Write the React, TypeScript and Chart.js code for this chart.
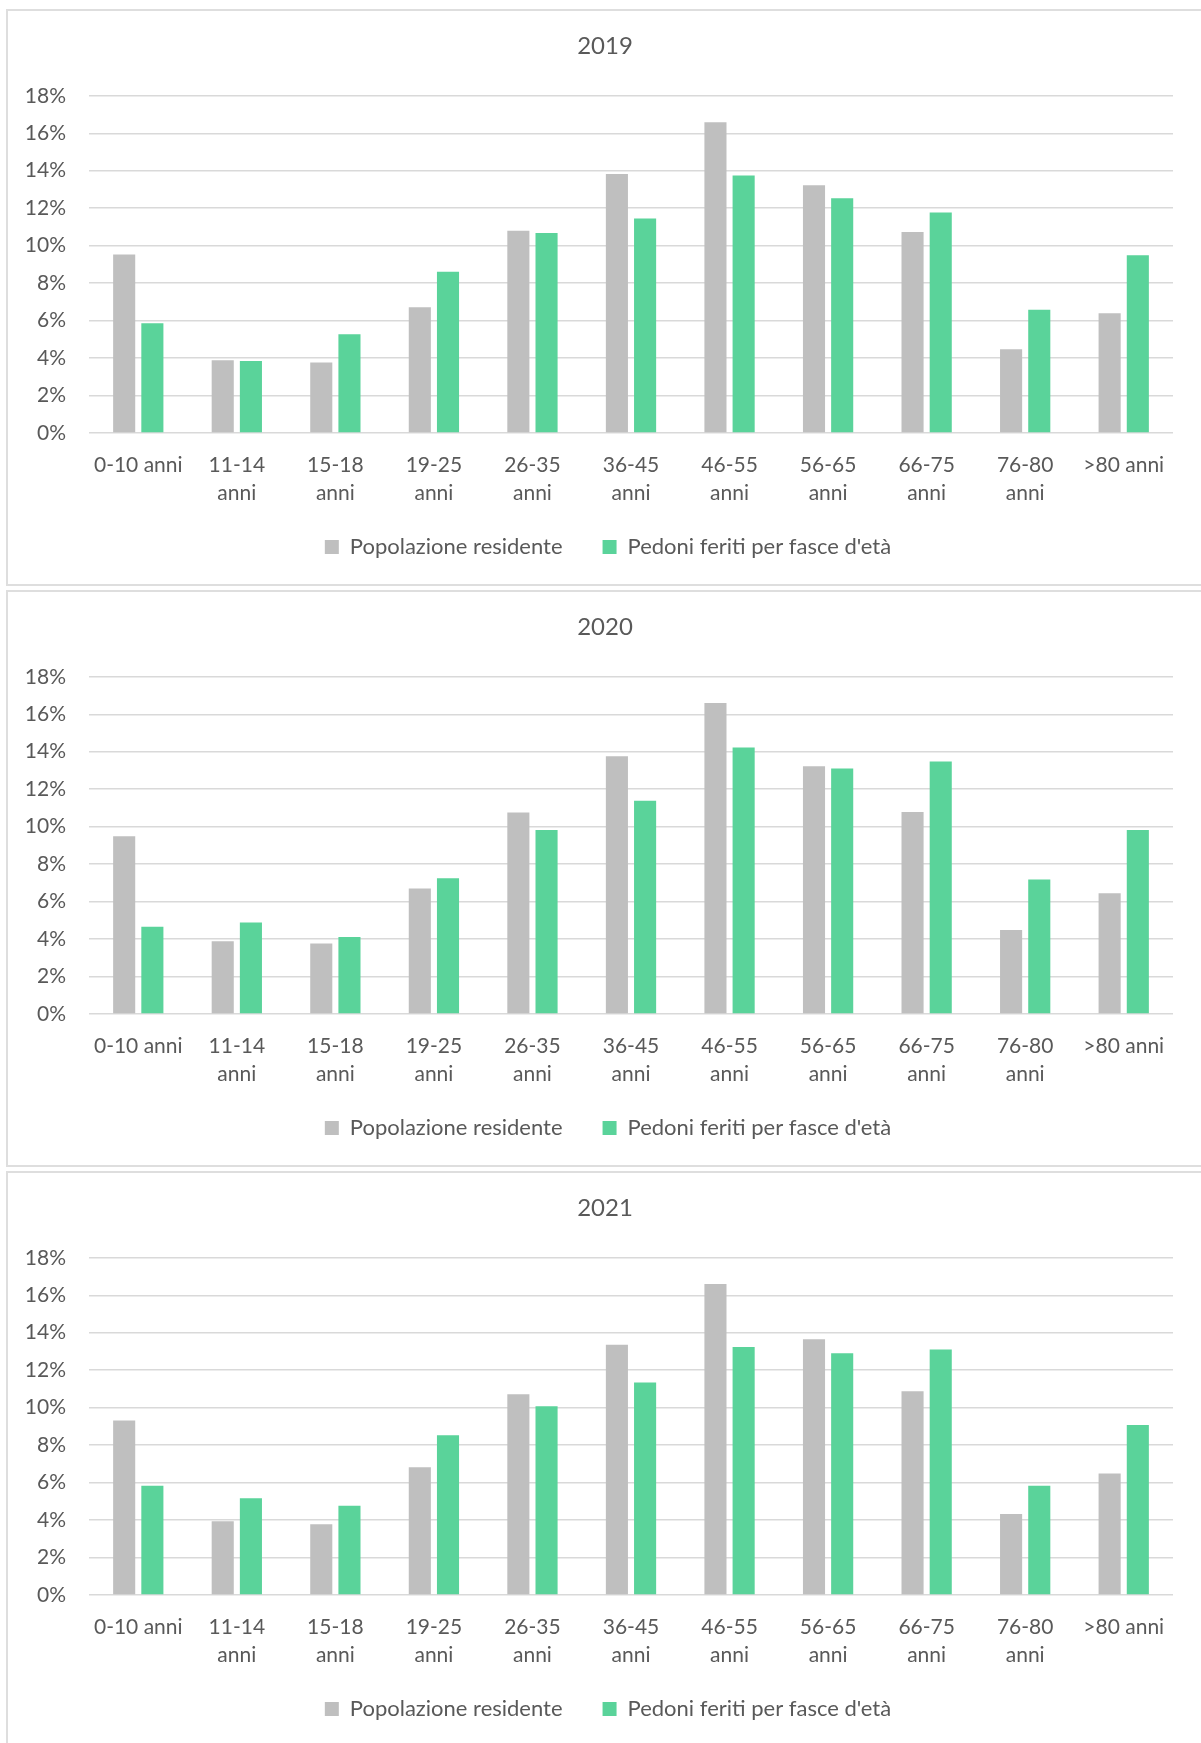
import React, { useEffect, useRef } from "react";
import { Chart, registerables } from "chart.js";

Chart.register(...registerables);

// ---- Data ----
const categories: (string | string[])[] = [
  "0-10 anni",
  ["11-14", "anni"],
  ["15-18", "anni"],
  ["19-25", "anni"],
  ["26-35", "anni"],
  ["36-45", "anni"],
  ["46-55", "anni"],
  ["56-65", "anni"],
  ["66-75", "anni"],
  ["76-80", "anni"],
  ">80 anni",
];

const seriesNames = ["Popolazione residente", "Pedoni feriti per fasce d'età"];
const years = ["2019", "2020", "2021"];

const popolazione2019 = [9.53, 3.89, 3.76, 6.71, 10.79, 13.82, 16.59, 13.22, 10.73, 4.47, 6.39];
const pedoni2019 = [5.86, 3.85, 5.27, 8.61, 10.68, 11.45, 13.74, 12.53, 11.77, 6.58, 9.49];

const popolazione2020 = [9.49, 3.88, 3.76, 6.7, 10.75, 13.76, 16.6, 13.23, 10.78, 4.49, 6.44];
const pedoni2020 = [4.66, 4.89, 4.11, 7.24, 9.82, 11.39, 14.22, 13.11, 13.48, 7.18, 9.82];

const popolazione2021 = [9.31, 3.94, 3.78, 6.82, 10.71, 13.36, 16.6, 13.65, 10.87, 4.32, 6.49];
const pedoni2021 = [5.83, 5.17, 4.76, 8.53, 10.07, 11.34, 13.24, 12.9, 13.11, 5.83, 9.08];

const popolazioneByYear = [popolazione2019, popolazione2020, popolazione2021];
const pedoniByYear = [pedoni2019, pedoni2020, pedoni2021];

const yMin = 0;
const yMax = 18;
const yStep = 2;

const grayColor = "#bfbfbf";
const greenColor = "#5ad39a";
const textColor = "#595959";
const gridColor = "#d9d9d9";
const fontFamily = "Lato, 'Open Sans', sans-serif";

const CANVAS_W = 1196;
const CANVAS_H = 573;
const LEGEND_FONT = 22;
const LEGEND_PAD = 40;
const LEGEND_CENTER_Y = 536;
const TITLE_CENTER_X = 597;
const LEGEND_CENTER_X = 600;

// Re-centre title and legend on the whole panel (the plot area has a right inset)
const panelLayoutPlugin = {
  id: "panelLayout",
  afterLayout(chart: any) {
    const t = chart.titleBlock;
    if (t) {
      t.left = TITLE_CENTER_X - CANVAS_W / 2;
      t.right = TITLE_CENTER_X + CANVAS_W / 2;
    }
    const l = chart.legend;
    if (l) {
      const h = l.bottom - l.top;
      l.left = LEGEND_CENTER_X - CANVAS_W / 2;
      l.right = LEGEND_CENTER_X + CANVAS_W / 2;
      l.top = LEGEND_CENTER_Y - LEGEND_PAD - LEGEND_FONT / 2;
      l.bottom = l.top + h;
    }
  },
};

function YearChart({ index }: { index: number }) {
  const ref = useRef<HTMLCanvasElement | null>(null);

  useEffect(() => {
    if (!ref.current) return;
    const chart = new Chart(ref.current, {
      type: "bar",
      data: {
        labels: categories,
        datasets: [
          {
            label: seriesNames[0],
            data: popolazioneByYear[index],
            backgroundColor: grayColor,
            borderWidth: 0,
            barPercentage: 0.784,
            categoryPercentage: 0.572,
          },
          {
            label: seriesNames[1],
            data: pedoniByYear[index],
            backgroundColor: greenColor,
            borderWidth: 0,
            barPercentage: 0.784,
            categoryPercentage: 0.572,
          },
        ],
      },
      plugins: [panelLayoutPlugin],
      options: {
        responsive: false,
        animation: false,
        devicePixelRatio: 1,
        layout: { padding: { top: 0, left: 0, right: 31, bottom: 4 } },
        scales: {
          x: {
            grid: { display: false, drawTicks: false },
            border: { display: false },
            ticks: {
              color: textColor,
              font: { family: fontFamily, size: 21, lineHeight: 1.35 },
              padding: 18,
              maxRotation: 0,
              minRotation: 0,
              autoSkip: false,
            },
            afterFit: (scale: any) => {
              scale.height = 75;
            },
          },
          y: {
            min: yMin,
            max: yMax,
            grid: { color: gridColor, lineWidth: 1.5, drawTicks: false },
            border: { display: false },
            ticks: {
              stepSize: yStep,
              color: textColor,
              font: { family: fontFamily, size: 21 },
              padding: 23,
              callback: (v: any) => `${v}%`,
            },
            afterFit: (scale: any) => {
              scale.width = 81;
            },
          },
        },
        plugins: {
          title: {
            display: true,
            text: years[index],
            color: textColor,
            font: { family: fontFamily, size: 24, weight: "normal" as any },
            padding: { top: 21, bottom: 35 },
          },
          legend: {
            display: true,
            position: "bottom",
            labels: {
              color: textColor,
              font: { family: fontFamily, size: LEGEND_FONT },
              boxWidth: 14,
              boxHeight: 14,
              padding: LEGEND_PAD,
            },
          },
          tooltip: { enabled: false },
        },
      },
    });
    return () => chart.destroy();
  }, [index]);

  return (
    <div
      style={{
        position: "absolute",
        left: 6,
        top: 9 + 581 * index,
        width: 1200,
        height: 577,
        boxSizing: "border-box",
        border: "2px solid #dedede",
        background: "#ffffff",
      }}
    >
      <canvas ref={ref} width={CANVAS_W} height={CANVAS_H} style={{ display: "block" }} />
    </div>
  );
}

export default function App() {
  return (
    <div
      style={{
        position: "fixed",
        left: 0,
        top: 0,
        width: 1201,
        height: 1743,
        overflow: "hidden",
        background: "#ffffff",
      }}
    >
      {years.map((y, i) => (
        <YearChart key={y} index={i} />
      ))}
    </div>
  );
}
